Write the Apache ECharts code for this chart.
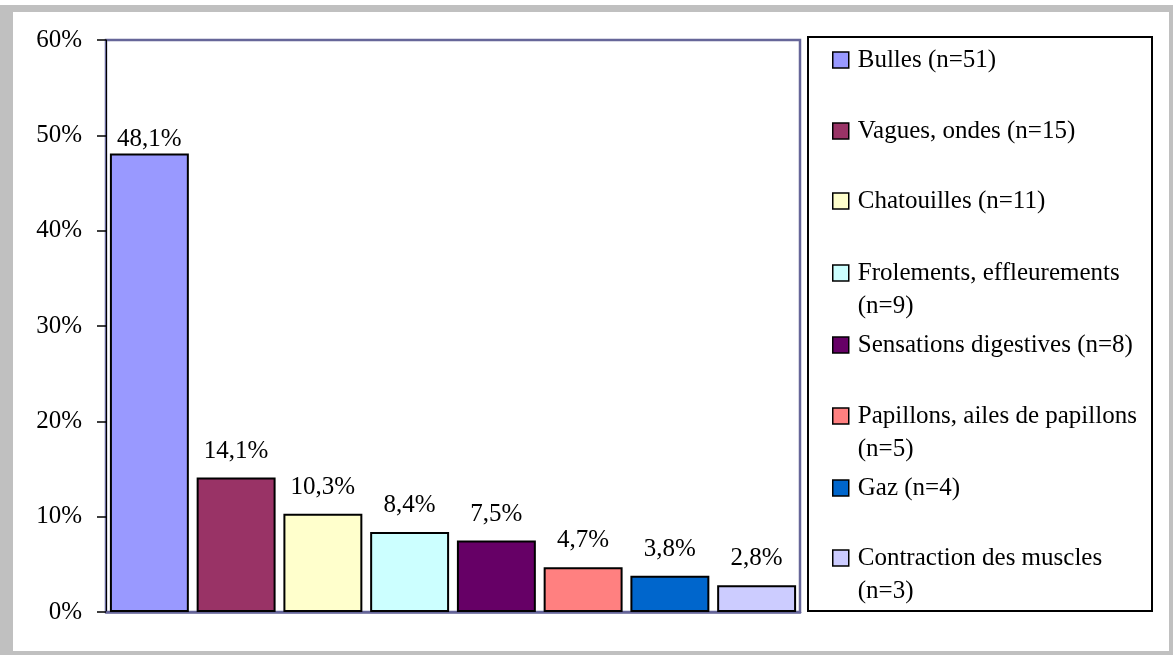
<!DOCTYPE html>
<html>
<head>
<meta charset="utf-8">
<script src="https://cdn.jsdelivr.net/npm/echarts@6/dist/echarts.min.js"></script>
<style>
html,body{margin:0;padding:0;background:#fff;}
#chart{width:1173px;height:655px;}
</style>
</head>
<body>
<div id="chart"></div>
<script>
const categories = ["Bulles (n=51)", "Vagues, ondes (n=15)", "Chatouilles (n=11)", "Frolements, effleurements (n=9)", "Sensations digestives (n=8)", "Papillons, ailes de papillons (n=5)", "Gaz (n=4)", "Contraction des muscles (n=3)"];
const legendLabels = ["Bulles (n=51)", "Vagues, ondes (n=15)", "Chatouilles (n=11)", "\nFrolements, effleurements\n(n=9)", "Sensations digestives (n=8)", "\nPapillons, ailes de papillons\n(n=5)", "Gaz (n=4)", "\nContraction des muscles\n(n=3)"];
const values = [48.1, 14.1, 10.3, 8.4, 7.5, 4.7, 3.8, 2.8];
const colors = ["#9999FF", "#993366", "#FFFFCC", "#CCFFFF", "#660066", "#FF8080", "#0066CC", "#CCCCFF"];
const yTicks = [0, 10, 20, 30, 40, 50, 60];

const FONT = "Liberation Serif";
const FS = 25;
const legendCenters = [60, 131, 201, 273, 345, 416, 488, 558];
const LH = 33;

const series = categories.map((name, i) => ({
  name: name,
  type: 'bar',
  stack: 'all',
  barCategoryGap: '9%',
  data: categories.map((c, j) => j === i ? values[i] : '-'),
  itemStyle: { color: colors[i], borderColor: '#000', borderWidth: 2 },
  label: {
    show: true,
    position: 'top',
    distance: i === 0 ? 2 : 14,
    fontFamily: FONT,
    fontSize: FS,
    color: '#000',
    formatter: p => p.value.toFixed(1).replace('.', ',') + '%'
  }
}));

const legends = categories.map((name, i) => {
  const lines = legendLabels[i].split('\n').length;
  return {
    data: [name],
    orient: 'vertical',
    left: 832,
    top: legendCenters[i] - (lines * LH) / 2,
    padding: 0,
    itemWidth: 16,
    itemHeight: 16,
    icon: 'rect',
    selectedMode: false,
    formatter: () => legendLabels[i],
    textStyle: { fontFamily: FONT, fontSize: FS, color: '#000', lineHeight: LH, padding: [0, 0, 0, 4] },
    itemStyle: { borderColor: '#000', borderWidth: 1.5 }
  };
});

const chart = echarts.init(document.getElementById('chart'), null, { renderer: 'canvas' });
chart.setOption({
  animation: false,
  backgroundColor: '#fff',
  graphic: [
    { type: 'rect', z: -10, shape: { x: 0, y: 5, width: 1173, height: 650 }, style: { fill: '#C0C0C0' } },
    { type: 'rect', z: -9, shape: { x: 13, y: 12, width: 1156, height: 639 }, style: { fill: '#fff' } },
    { type: 'rect', z: -8, shape: { x: 808, y: 37, width: 344, height: 574 }, style: { fill: '#fff', stroke: '#000', lineWidth: 2 } }
  ],
  grid: {
    left: 106, top: 40, right: 373, bottom: 43,
    show: true, borderColor: '#666699', borderWidth: 2.5, backgroundColor: 'transparent'
  },
  legend: legends,
  xAxis: {
    type: 'category',
    data: categories,
    axisLine: { show: true, lineStyle: { color: '#666699', width: 2.5 } },
    axisTick: { show: false },
    axisLabel: { show: false }
  },
  yAxis: {
    type: 'value',
    min: 0, max: 60, interval: 10,
    axisLine: { show: true, lineStyle: { color: '#000', width: 1 } },
    axisTick: { show: true, inside: false, length: 9, lineStyle: { color: '#000', width: 1.5 } },
    splitLine: { show: false },
    axisLabel: { fontFamily: FONT, fontSize: FS, color: '#000', margin: 24, formatter: v => v + '%' }
  },
  series: series
});
</script>
</body>
</html>
